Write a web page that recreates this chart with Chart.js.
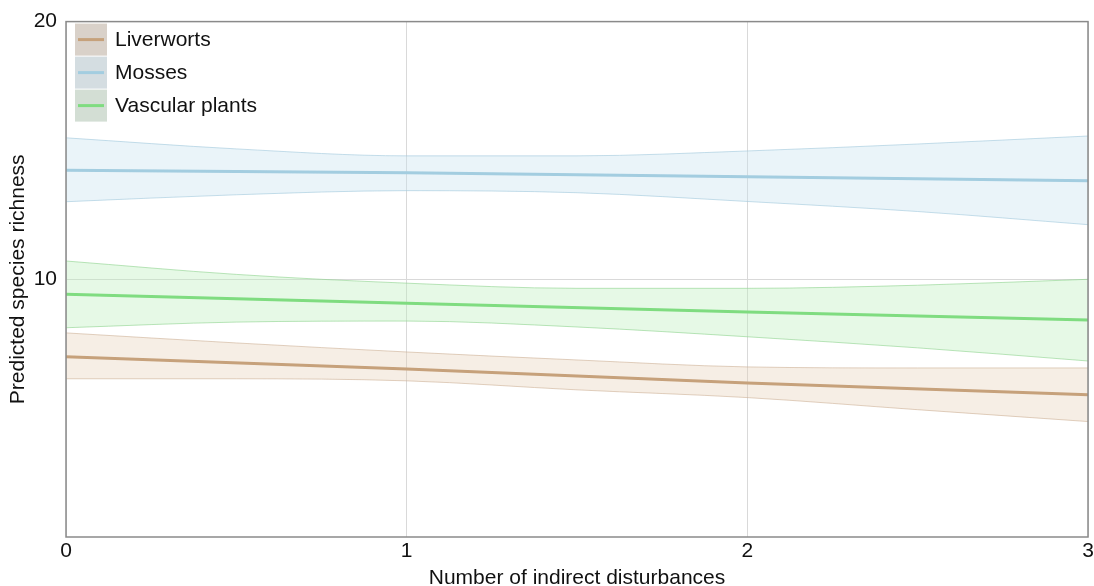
<!DOCTYPE html>
<html>
<head>
<meta charset="utf-8">
<script src="https://cdn.jsdelivr.net/npm/chart.js"></script>
<style>
  html, body { margin: 0; padding: 0; background: #fff; }
  #wrap { width: 1094px; height: 586px; }
</style>
</head>
<body>
<div id="wrap"><canvas id="chart" width="1094" height="586"></canvas></div>
<script>
const bandX = [0, 0.5, 1, 1.5, 2, 2.5, 3];
const lineX = [0, 1, 2, 3];

// Liverworts
const liverFit   = [6.99, 6.52, 5.98, 5.52];
const liverUpper = [7.92, 7.53, 7.18, 6.87, 6.60, 6.56, 6.56];
const liverLower = [6.14, 6.14, 6.06, 5.71, 5.41, 4.94, 4.48];

// Mosses
const mossFit   = [14.23, 14.13, 13.98, 13.82];
const mossUpper = [15.49, 15.06, 14.79, 14.79, 14.98, 15.25, 15.56];
const mossLower = [13.01, 13.28, 13.44, 13.36, 13.02, 12.63, 12.12];

// Vascular plants
const vascFit   = [9.42, 9.07, 8.73, 8.42];
const vascUpper = [10.71, 10.19, 9.85, 9.65, 9.65, 9.77, 10.0];
const vascLower = [8.12, 8.34, 8.38, 8.15, 7.77, 7.34, 6.83];

const xTicks = [0, 1, 2, 3];
const yTicks = [10, 20];

const groups = [
  { name: 'Liverworts', fit: liverFit, up: liverUpper, lo: liverLower,
    line: '#c6a17b', fill: 'rgba(230, 205, 180, 0.35)', edge: 'rgba(200, 170, 140, 0.55)', key: '#d9d1c9' },
  { name: 'Mosses', fit: mossFit, up: mossUpper, lo: mossLower,
    line: '#a3cde0', fill: 'rgba(200, 225, 240, 0.38)', edge: 'rgba(160, 200, 220, 0.6)', key: '#d4dde1' },
  { name: 'Vascular plants', fit: vascFit, up: vascUpper, lo: vascLower,
    line: '#7fdc80', fill: 'rgba(190, 240, 190, 0.38)', edge: 'rgba(140, 210, 140, 0.6)', key: '#d3ded4' }
];

const pts = (xs, ys) => xs.map((x, i) => ({ x: x, y: ys[i] }));

const datasets = [];
groups.forEach(g => {
  datasets.push({
    label: g.name + ' lower', data: pts(bandX, g.lo),
    borderColor: g.edge, borderWidth: 1, pointRadius: 0,
    cubicInterpolationMode: 'monotone', fill: false, order: 3
  });
  datasets.push({
    label: g.name + ' upper', data: pts(bandX, g.up),
    borderColor: g.edge, borderWidth: 1, pointRadius: 0,
    cubicInterpolationMode: 'monotone', backgroundColor: g.fill, fill: '-1', order: 3
  });
});
groups.forEach(g => {
  datasets.push({
    label: g.name, data: pts(lineX, g.fit),
    borderColor: g.line, borderWidth: 3, pointRadius: 0,
    fill: false, order: 1
  });
});

const font = '"Liberation Sans", Arial, sans-serif';

// legend drawn inside the plot, top-left
const keyLegend = {
  id: 'keyLegend',
  afterDraw(chart) {
    const ctx = chart.ctx;
    const a = chart.chartArea;
    ctx.save();
    groups.forEach((g, i) => {
      const x = a.left + 9, y = a.top + 2 + i * 33;
      ctx.fillStyle = g.key;
      ctx.fillRect(x, y, 32, 32);
      ctx.strokeStyle = g.line;
      ctx.lineWidth = 3;
      ctx.beginPath();
      ctx.moveTo(x + 3, y + 16);
      ctx.lineTo(x + 29, y + 16);
      ctx.stroke();
      ctx.fillStyle = '#111';
      ctx.font = '21px ' + font;
      ctx.textBaseline = 'middle';
      ctx.fillText(g.name, x + 40, y + 17);
    });
    ctx.restore();
  }
};

// frame around the plot
const frame = {
  id: 'frame',
  afterDatasetsDraw(chart) {
    const a = chart.chartArea;
    const ctx = chart.ctx;
    ctx.save();
    ctx.strokeStyle = '#8a8a8a';
    ctx.lineWidth = 1.5;
    ctx.strokeRect(a.left, a.top, a.right - a.left, a.bottom - a.top);
    ctx.restore();
  }
};

new Chart(document.getElementById('chart'), {
  type: 'line',
  data: { datasets: datasets },
  options: {
    responsive: false,
    animation: false,
    layout: { padding: { left: 6, right: 6, top: 20, bottom: 0 } },
    plugins: { legend: { display: false }, tooltip: { enabled: false } },
    scales: {
      x: {
        type: 'linear', min: 0, max: 3,
        afterBuildTicks: s => { s.ticks = xTicks.map(v => ({ value: v })); },
        grid: { color: '#d9d9d9', lineWidth: 1, drawTicks: false },
        border: { display: false },
        ticks: { color: '#111', font: { family: font, size: 21 }, padding: 2 },
        title: { display: true, text: 'Number of indirect disturbances', color: '#111',
                 font: { family: font, size: 21 }, padding: { top: 6, bottom: -5 } },
        afterFit: s => { s.height = 49; s.paddingRight = 0; }
      },
      y: {
        type: 'linear', min: 0, max: 20,
        afterBuildTicks: s => { s.ticks = [0].concat(yTicks).map(v => ({ value: v })); },
        grid: { color: c => c.tick && c.tick.value === 0 ? 'rgba(0,0,0,0)' : '#d9d9d9', lineWidth: 1, drawTicks: false },
        border: { display: false },
        ticks: { color: '#111', font: { family: font, size: 21 }, padding: 9,
                 callback: v => (yTicks.includes(v) ? String(v) : '') },
        title: { display: true, text: 'Predicted species richness', color: '#111',
                 font: { family: font, size: 21 }, padding: { top: 0, bottom: 2 } },
        afterFit: s => { s.width = 60; }
      }
    }
  },
  plugins: [frame, keyLegend]
});
</script>
</body>
</html>
